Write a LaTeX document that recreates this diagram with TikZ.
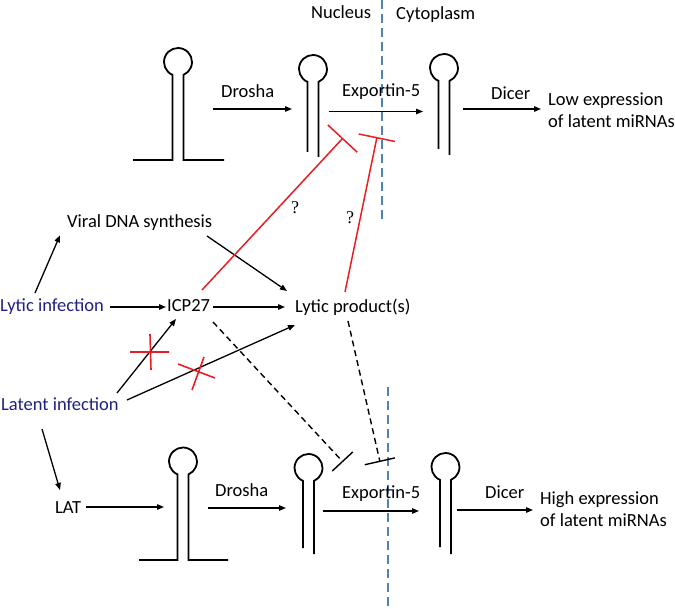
\documentclass[tikz,border=0pt]{standalone}
\usepackage{fontspec}
\setmainfont{Carlito}
\newfontfamily\qfont{Liberation Serif}
\usetikzlibrary{arrows.meta}
\definecolor{navy}{RGB}{32,32,128}
\definecolor{inhred}{RGB}{232,30,36}
\definecolor{memblue}{RGB}{79,129,189}
\tikzset{
  lbl/.style={inner sep=0pt, anchor=base west, font=\fontsize{18.5}{22}\selectfont},
  inf/.style={lbl, text=navy},
  arr/.style={line width=1.3pt, -{Triangle[length=7pt,width=5.5pt]}},
  rna/.style={line width=1.8pt, line join=miter},
  inh/.style={line width=1.5pt, draw=inhred},
  dinh/.style={line width=1.4pt, dash pattern=on 6pt off 4pt},
  crossmark/.style={line width=1.6pt, draw=inhred},
  memb/.style={line width=2.2pt, draw=memblue, dash pattern=on 9pt off 5pt},
  qm/.style={inner sep=0pt, font=\qfont\fontsize{18}{18}\selectfont}
}
\newcommand\hpin[4]{%
  \draw[rna] ({#1-5.5},#3) -- ({#1-5.5},{#2+12.87})
    arc[start angle=113.13,end angle=426.87,radius=14] -- ({#1+5.5},#4);}
\newcommand\pripin[5]{%
  \draw[rna] (#4,#3) -- ({#1-5.5},#3) -- ({#1-5.5},{#2+12.87})
    arc[start angle=113.13,end angle=426.87,radius=14] -- ({#1+5.5},#3) -- (#5,#3);}
\begin{document}
\begin{tikzpicture}[x=1pt,y=-1pt]
\useasboundingbox (0,0) rectangle (675,609);

% membranes
\draw[memb] (382,0) -- (382,220);
\draw[memb] (388,387) -- (388,609);

% hairpins
\pripin{178}{62}{160}{133}{224}
\hpin{313}{69}{152}{157}
\hpin{444}{68}{149}{155}
\pripin{183}{461.5}{560}{139}{228}
\hpin{308.5}{468}{548}{554}
\hpin{445.5}{467}{547}{554}

% text nodes
\node[lbl] (nuc) at (311,19) {Nucleus};
\node[lbl] (cyt) at (396,19.5) {Cytoplasm};
\node[lbl] (dro1) at (221,97.7) {Drosha};
\node[lbl] (exp1) at (342,96.7) {Exportin-5};
\node[lbl] (dic1) at (491,100) {Dicer};
\node[lbl, align=left] (low) at (548,128) {Low expression\\of latent miRNAs};
\node[lbl] (viral) at (67,227.3) {Viral DNA synthesis};
\node[inf] (lytic) at (0,312) {Lytic infection};
\node[lbl] (icp) at (167,312) {ICP27};
\node[lbl] (prod) at (295,312.7) {Lytic product(s)};
\node[inf] (latent) at (1,410.7) {Latent infection};
\node[lbl] (lat) at (55,514) {LAT};
\node[lbl] (dro2) at (215,496.7) {Drosha};
\node[lbl] (exp2) at (342,499) {Exportin-5};
\node[lbl] (dic2) at (485,499) {Dicer};
\node[lbl, align=left] (high) at (540,526) {High expression\\of latent miRNAs};
\node[qm] (q1) at (295,208) {?};
\node[qm] (q2) at (350,218) {?};

% hairpin-side coordinates
\coordinate (td1) at (213,109);
\coordinate (td2) at (292,109);
\coordinate (te1) at (329,111.5);
\coordinate (te2) at (423,111.5);
\coordinate (tc1) at (463,109);
\coordinate (tc2) at (541,109);
\coordinate (bp1) at (164,507);
\coordinate (bd1) at (208,508);
\coordinate (bd2) at (286,508);
\coordinate (be1) at (323,511);
\coordinate (be2) at (419,511);
\coordinate (bc1) at (457,510);
\coordinate (bc2) at (533,510);
\coordinate (ti1) at (343,138);
\coordinate (ti2) at (377,137);
\coordinate (bi1) at (343,462);
\coordinate (bi2) at (380,462);

% processing arrows
\draw[arr] (td1) -- (td2);
\draw[arr] (te1) -- (te2);
\draw[arr] (tc1) -- (tc2);
\draw[arr] ([shift={(31,-7)}]lat.base west) -- (bp1);
\draw[arr] (bd1) -- (bd2);
\draw[arr] (be1) -- (be2);
\draw[arr] (bc1) -- (bc2);

% pathway arrows
\draw[arr] ([shift={(35,-19)}]lytic.base west) -- ([shift={(-7,8)}]viral.base west);
\draw[arr] ([shift={(110,-5)}]lytic.base west) -- ([shift={(-1,-5)}]icp.base west);
\draw[arr] ([shift={(46,-5)}]icp.base west) -- ([shift={(-10,-5.7)}]prod.base west);
\draw[arr] ([shift={(140,8.7)}]viral.base west) -- ([shift={(-8,-21.7)}]prod.base west);
\draw[arr] ([shift={(116,-17.7)}]latent.base west) -- ([shift={(9,7)}]icp.base west);
\draw[arr] ([shift={(126,-10.7)}]latent.base west) -- ([shift={(0,12.3)}]prod.base west);
\draw[arr] ([shift={(41,18.3)}]latent.base west) -- ([shift={(5,-24)}]lat.base west);

% inhibitions
\draw[inh, -{Bar[width=40pt]}] ([shift={(35,-22)}]icp.base west) -- (ti1);
\draw[inh, -{Bar[width=37pt]}] ([shift={(50,-20.7)}]prod.base west) -- (ti2);
\draw[dinh, -{Bar[width=28pt]}] ([shift={(46,10)}]icp.base west) -- (bi1);
\draw[dinh, -{Bar[width=31pt]}] ([shift={(53,8.3)}]prod.base west) -- (bi2);

% blocked marks
\draw[crossmark] (130,352) -- (169,352) (150,334) -- (151,370);
\draw[crossmark] (178,364) -- (215,378) (204,357) -- (192,390);
\end{tikzpicture}
\end{document}
